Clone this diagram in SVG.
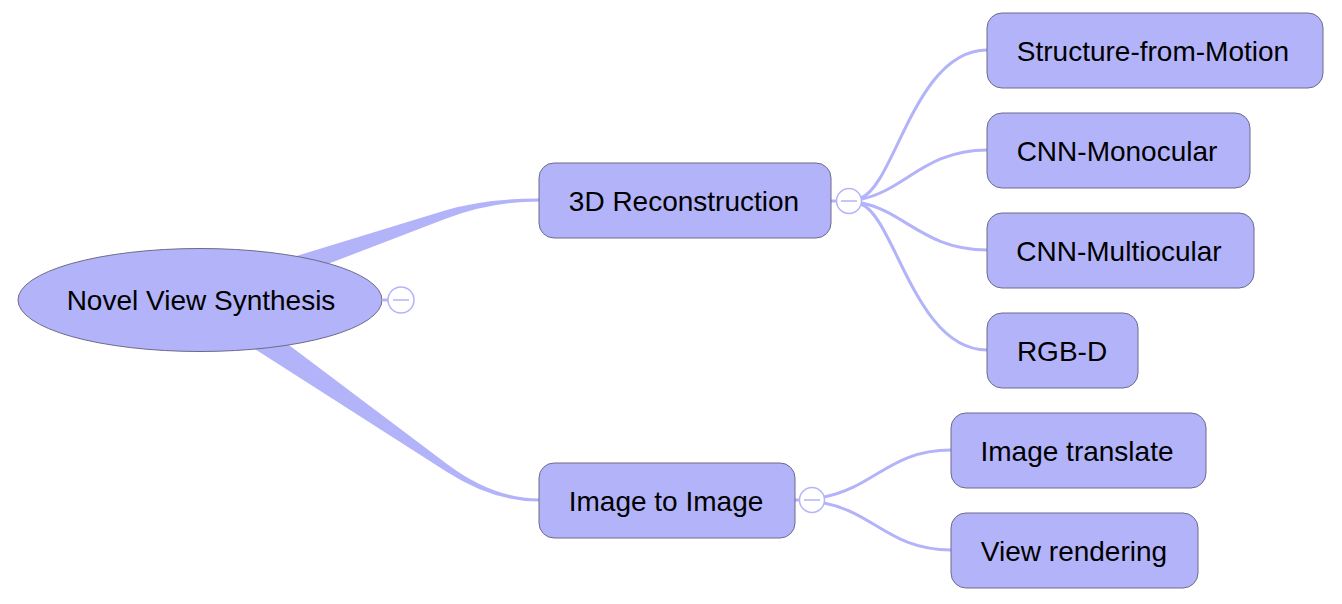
<svg xmlns="http://www.w3.org/2000/svg" width="1342" height="604" viewBox="0 0 1342 604">
<style>
.node{fill:#b3b3fa;stroke:#6a6a8c;stroke-width:1}
.lbl{font-family:"Liberation Sans",Arial,sans-serif;font-size:28px;fill:#000;text-anchor:middle}
.edge{fill:none;stroke:#b3b3fa;stroke-width:3}
.trunk{fill:#b3b3fa;stroke:none}
.tog{fill:#fff;stroke:#b3b3fa;stroke-width:1.5}
.tog line{stroke:#b3b3fa;stroke-width:1.5}
</style>
<rect width="1342" height="604" fill="#fff"/>
<g id="connectors">
<path class="trunk" d="M200,285.5 L445,210.5 Q484,198.5 539,198.5 L539,201.5 Q491,201.5 445,219 L200,313 Z"/>
<path class="trunk" d="M200,278 L447,464 Q493,498.5 539,498.5 L539,501.5 Q493,501.5 447,472 L200,314 Z"/>
<line class="edge" x1="383" y1="300" x2="388" y2="300" stroke-width="2"/>
<line class="edge" x1="831" y1="201" x2="836" y2="201" stroke-width="2"/>
<line class="edge" x1="795" y1="500" x2="800" y2="500" stroke-width="2"/>
<path class="edge" d="M861,198 C895,185 915,50 987,50"/>
<path class="edge" d="M862,199 C905,190 925,150 987,150"/>
<path class="edge" d="M862,203 C905,212 925,250 987,250"/>
<path class="edge" d="M861,204 C895,217 915,350 987,350"/>
<path class="edge" d="M824,497 C875,487 890,450 951,450"/>
<path class="edge" d="M824,503 C875,513 890,550 951,550"/>
</g>
<g id="root">
<ellipse class="node" cx="200" cy="300" rx="182" ry="51.5"/>
<text class="lbl" x="201" y="310">Novel View Synthesis</text>
</g>
<g id="root-toggle" class="tog">
<circle cx="401" cy="300" r="13"/>
<line x1="393" y1="300" x2="409" y2="300"/>
</g>
<g id="n3d">
<rect class="node" x="539" y="163" width="292" height="75" rx="15"/>
<text class="lbl" x="684" y="211">3D Reconstruction</text>
</g>
<g id="n3d-toggle" class="tog">
<circle cx="849" cy="201" r="12.5"/>
<line x1="841" y1="201" x2="857" y2="201"/>
</g>
<g id="nimg">
<rect class="node" x="539" y="463" width="256" height="75" rx="15"/>
<text class="lbl" x="666" y="511">Image to Image</text>
</g>
<g id="nimg-toggle" class="tog">
<circle cx="812" cy="500" r="12.5"/>
<line x1="804" y1="500" x2="820" y2="500"/>
</g>
<g id="sfm">
<rect class="node" x="987" y="13" width="336" height="75" rx="15"/>
<text class="lbl" x="1153" y="61">Structure-from-Motion</text>
</g>
<g id="mono">
<rect class="node" x="987" y="113" width="263" height="75" rx="15"/>
<text class="lbl" x="1117" y="161">CNN-Monocular</text>
</g>
<g id="multi">
<rect class="node" x="987" y="213" width="267" height="75" rx="15"/>
<text class="lbl" x="1119" y="261">CNN-Multiocular</text>
</g>
<g id="rgbd">
<rect class="node" x="987" y="313" width="151" height="75" rx="15"/>
<text class="lbl" x="1062" y="361">RGB-D</text>
</g>
<g id="translate">
<rect class="node" x="951" y="413" width="255" height="75" rx="15"/>
<text class="lbl" x="1077" y="461">Image translate</text>
</g>
<g id="render">
<rect class="node" x="951" y="513" width="247" height="75" rx="15"/>
<text class="lbl" x="1074" y="561">View rendering</text>
</g>
</svg>
